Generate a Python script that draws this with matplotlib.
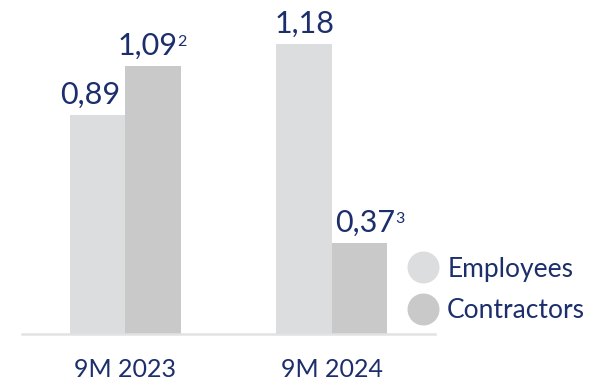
import matplotlib.pyplot as plt
from matplotlib.lines import Line2D

# datos
periodos = ['9M 2023', '9M 2024']
empleados = [0.89, 1.18]
contratistas = [1.09, 0.37]
etiq_emp = ['0,89', '1,18']
etiq_con = ['1,09', '0,37']
notas_emp = ['', '']
notas_con = ['2', '3']
series = ['Employees', 'Contractors']

col_emp = '#dcdddf'
col_con = '#c9c9c9'
azul = '#1c2e6b'

plt.rcParams['font.family'] = ['Lato', 'DejaVu Sans']

fig = plt.figure(figsize=(5.99, 3.78), dpi=100)
ax = fig.add_axes([22 / 599, 44 / 378, 413 / 599, 334 / 378])

x = range(len(periodos))
ancho = 0.268
b1 = ax.bar([i - ancho / 2 for i in x], empleados, ancho, color=col_emp)
b2 = ax.bar([i + ancho / 2 for i in x], contratistas, ancho, color=col_con)

ax.set_xlim(-0.5, 1.5)
ax.set_ylim(0, 1.36)

for s in ['top', 'right', 'left']:
    ax.spines[s].set_visible(False)
ax.spines['bottom'].set_color('#e2e2e2')
ax.spines['bottom'].set_linewidth(1.8)
ax.set_yticks([])
ax.set_xticks([])

# etiquetas de valores con superindice
def etiqueta(barra, txt, nota, dx=0):
    xc = barra.get_x() + barra.get_width() / 2
    t = ax.annotate(txt, (xc, barra.get_height()), xytext=(dx, 8.5),
                    textcoords='offset points', ha='center', va='baseline',
                    fontsize=22, color=azul)
    if nota:
        ax.annotate(nota, xy=(1.0, 0.86), xycoords=t, ha='left', va='top',
                    fontsize=11.5, color=azul)

for i in x:
    etiqueta(b1[i], etiq_emp[i], notas_emp[i], dx=-5 if i == 0 else 0)
    etiqueta(b2[i], etiq_con[i], notas_con[i], dx=-4 if i == 0 else 4)

# etiquetas de categorias
for i in x:
    ax.text(i, -0.1287, periodos[i], transform=ax.get_xaxis_transform(),
            ha='center', va='baseline', fontsize=18, color=azul)

handles = [Line2D([], [], marker='o', linestyle='', markersize=22,
                  markerfacecolor=c, markeredgecolor=c)
           for c in [col_emp, col_con]]
leg = fig.legend(handles, series, loc='upper left',
                 bbox_to_anchor=(397 / 599, 1 - 246 / 378), frameon=False,
                 fontsize=19, labelspacing=0.62, handletextpad=0.3,
                 handlelength=1.2, borderaxespad=0)
for t in leg.get_texts():
    t.set_color(azul)

fig.savefig('out.png', dpi=100)
